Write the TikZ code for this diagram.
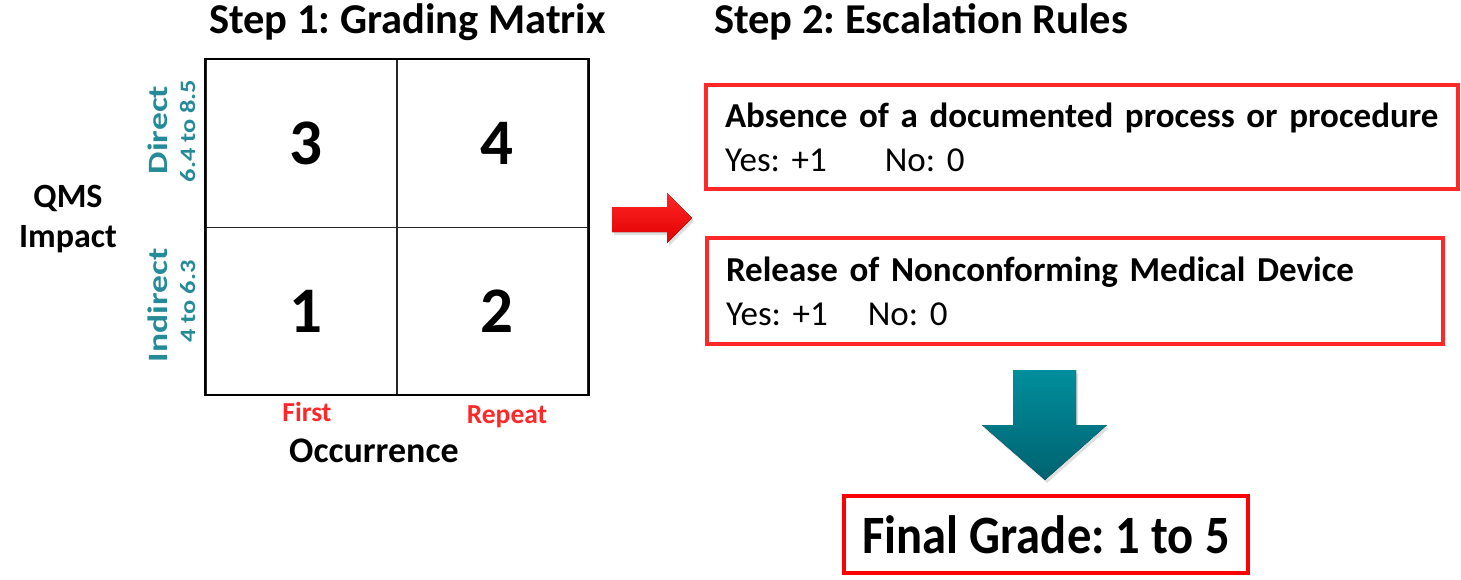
\documentclass[tikz,border=0pt]{standalone}
\usepackage{fontspec}
\setmainfont{Carlito}
\usetikzlibrary{positioning,shadows}
\definecolor{boxred}{RGB}{255,40,40}
\definecolor{gradered}{RGB}{255,0,0}
\definecolor{tealtxt}{RGB}{38,139,153}
\definecolor{tealtop}{RGB}{0,142,156}
\definecolor{tealbot}{RGB}{0,98,112}
\frenchspacing

\begin{document}
\begin{tikzpicture}[x=1pt,y=-1pt,
		cell/.style={draw=black!85, line width=1.2pt, minimum width=191pt, minimum height=167.5pt, inner sep=0pt, font=\fontsize{65}{65}\selectfont\bfseries},
		rulebox/.style={draw=boxred, line width=4.5pt, inner xsep=19pt, inner ysep=0pt, align=left, font=\fontsize{35}{44}\selectfont},
		heading/.style={anchor=base, font=\fontsize{42.5}{48}\selectfont\bfseries},
		axislabel/.style={anchor=base, font=\fontsize{36}{40}\selectfont\bfseries},
		collabel/.style={anchor=base, text=boxred, font=\fontsize{27.5}{30}\selectfont\bfseries},
		rowlabel/.style={anchor=base, rotate=90, xscale=1.27, text=tealtxt, font=\fontsize{28}{30}\selectfont\bfseries},
		rowrange/.style={anchor=base, rotate=90, xscale=1.2, text=tealtxt, font=\fontsize{22}{24}\selectfont\bfseries},
		arrowshadow/.style={drop shadow={opacity=0.25, shadow xshift=2pt, shadow yshift=-3pt}},
	]
		\useasboundingbox (0,0) rectangle (1461,579);
		
		\node[heading] (title1) at (407.5,33) {Step 1: Grading Matrix};
		\node[heading] (title2) at (921,33) {Step 2: Escalation Rules};
		
		% grading matrix
		\node[cell] (c3) at (301.5,143.5) {\hspace*{8pt}3};
		\node[cell] (c4) at (492.5,143.5) {\hspace*{8pt}4};
		\node[cell] (c1) at (301.5,311) {\hspace*{8pt}1};
		\node[cell] (c2) at (492.5,311) {\hspace*{8pt}2};
		\draw[line width=2pt] (c3.north west) rectangle (c2.south east);
		
		\node[rowlabel] (direct) at (167,130) {Direct};
		\node[rowrange] (directr) at (195,131) {6.4 to 8.5};
		\node[rowlabel] (indirect) at (167,305.5) {Indirect};
		\node[rowrange] (indirectr) at (195,301.5) {4 to 6.3};
		\node[axislabel, align=center, font=\fontsize{34}{40}\selectfont\bfseries] (qms) at (68,247) {QMS\\Impact};
		
		\node[collabel] (first) at (307,421) {First};
		\node[collabel] (repeat) at (507,423) {Repeat};
		\node[axislabel] (occ) at (374,462) {Occurrence};
		
		\fill[arrowshadow, top color=gradered!85!white, bottom color=gradered!88!black]
			(612,207) -- (667,207) -- (667,193) -- (692,218) -- (667,243) -- (667,232) -- (612,232) -- cycle;
		
		% escalation rules
		\node[rulebox, text width=714pt, minimum height=104pt] (rule1) at (1082,137)
			{{\bfseries Absence of a documented process or procedure}\\Yes: +1\hspace{58pt}No: 0};
		\node[rulebox, text width=698pt, minimum height=106pt] (rule2) at (1075,291)
			{{\bfseries Release of Nonconforming Medical Device}\\Yes: +1\hspace{40pt}No: 0};
		
		\fill[arrowshadow, top color=tealtop, bottom color=tealbot]
			(1013,370) -- (1076,370) -- (1076,425) -- (1107,425) -- (1045,480) -- (982,425) -- (1013,425) -- cycle;
		
		\node[draw=gradered, line width=4.5pt, minimum width=404pt, minimum height=77pt, font=\fontsize{54}{60}\selectfont\bfseries] (final) at (1046,534.5) {\scalebox{0.9}[1]{Final Grade: 1 to 5}};
	\end{tikzpicture}
\end{document}
